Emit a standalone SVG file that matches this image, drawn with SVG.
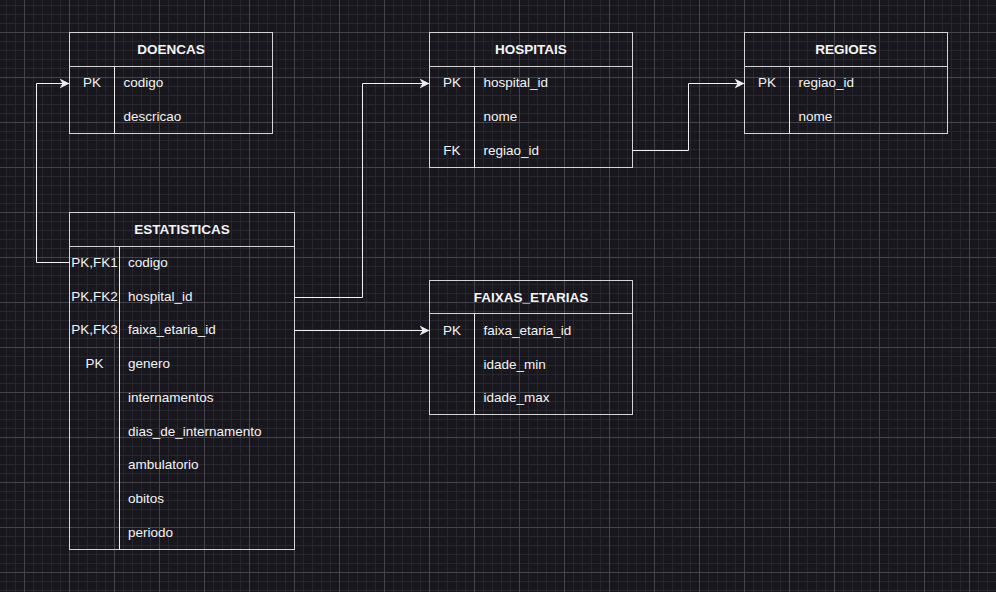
<svg xmlns="http://www.w3.org/2000/svg" width="996" height="592" viewBox="0 0 996 592">
  <defs>
    <!-- background grid: 9px minor cells, 45px major cells -->
    <pattern id="grid" x="24" y="32" width="45" height="45" patternUnits="userSpaceOnUse">
      <rect x="9" y="0" width="1" height="45" fill="#27252d"/>
      <rect x="18" y="0" width="1" height="45" fill="#27252d"/>
      <rect x="27" y="0" width="1" height="45" fill="#27252d"/>
      <rect x="36" y="0" width="1" height="45" fill="#27252d"/>
      <rect x="0" y="9" width="45" height="1" fill="#27252d"/>
      <rect x="0" y="18" width="45" height="1" fill="#27252d"/>
      <rect x="0" y="27" width="45" height="1" fill="#27252d"/>
      <rect x="0" y="36" width="45" height="1" fill="#27252d"/>
      <rect x="0" y="0" width="1" height="45" fill="#45444b"/>
      <rect x="0" y="0" width="45" height="1" fill="#45444b"/>
    </pattern>
    <marker id="arrow" viewBox="0 0 10 10" refX="10" refY="5" markerWidth="10" markerHeight="10" markerUnits="userSpaceOnUse" orient="auto">
      <path d="M0,0 L10,5 L0,10 L3,5 Z" fill="#f0f0f0"/>
    </marker>
  </defs>
  <style>
    .box { fill: none; stroke: #d4d4d4; stroke-width: 1; }
    .div { stroke: #ececec; stroke-width: 1; }
    .title { font-family: "Liberation Sans", Arial, sans-serif; font-size: 13.5px; font-weight: bold; fill: #f4f4f4; text-anchor: middle; }
    .key { font-family: "Liberation Sans", Arial, sans-serif; font-size: 13.5px; fill: #f4f4f4; text-anchor: middle; }
    .field { font-family: "Liberation Sans", Arial, sans-serif; font-size: 13.5px; fill: #f4f4f4; }
    .conn { fill: none; stroke: #f0f0f0; stroke-width: 1; }
  </style>

  <rect width="996" height="592" fill="#18171e"/>
  <rect width="996" height="592" fill="url(#grid)"/>

  <!-- DOENCAS -->
  <g id="doencas">
    <rect class="box" x="69.5" y="32.5" width="203" height="101"/>
    <line class="box" x1="69.5" y1="66.5" x2="272.5" y2="66.5"/>
    <line class="div" x1="114.5" y1="66.5" x2="114.5" y2="133.5"/>
    <text class="title" x="171" y="54">DOENCAS</text>
    <text class="key" x="92" y="87">PK</text>
    <text class="field" x="123.5" y="87">codigo</text>
    <text class="field" x="123.5" y="120.7">descricao</text>
  </g>

  <!-- HOSPITAIS -->
  <g id="hospitais">
    <rect class="box" x="429.5" y="32.5" width="203" height="135"/>
    <line class="box" x1="429.5" y1="66.5" x2="632.5" y2="66.5"/>
    <line class="div" x1="474.5" y1="66.5" x2="474.5" y2="167.5"/>
    <text class="title" x="531" y="54">HOSPITAIS</text>
    <text class="key" x="452" y="87">PK</text>
    <text class="field" x="483.5" y="87">hospital_id</text>
    <text class="field" x="483.5" y="120.7">nome</text>
    <text class="key" x="452" y="154.5">FK</text>
    <text class="field" x="483.5" y="154.5">regiao_id</text>
  </g>

  <!-- REGIOES -->
  <g id="regioes">
    <rect class="box" x="744.5" y="32.5" width="203" height="101"/>
    <line class="box" x1="744.5" y1="66.5" x2="947.5" y2="66.5"/>
    <line class="div" x1="789.5" y1="66.5" x2="789.5" y2="133.5"/>
    <text class="title" x="846" y="54">REGIOES</text>
    <text class="key" x="767" y="87">PK</text>
    <text class="field" x="798.5" y="87">regiao_id</text>
    <text class="field" x="798.5" y="120.7">nome</text>
  </g>

  <!-- ESTATISTICAS -->
  <g id="estatisticas">
    <rect class="box" x="69.5" y="212.5" width="225" height="337"/>
    <line class="box" x1="69.5" y1="246.5" x2="294.5" y2="246.5"/>
    <line class="div" x1="119.5" y1="246.5" x2="119.5" y2="549.5"/>
    <text class="title" x="182" y="234">ESTATISTICAS</text>
    <text class="key" x="94.5" y="266.9">PK,FK1</text>
    <text class="field" x="128" y="266.9">codigo</text>
    <text class="key" x="94.5" y="300.7">PK,FK2</text>
    <text class="field" x="128" y="300.7">hospital_id</text>
    <text class="key" x="94.5" y="334.4">PK,FK3</text>
    <text class="field" x="128" y="334.4">faixa_etaria_id</text>
    <text class="key" x="94.5" y="368.2">PK</text>
    <text class="field" x="128" y="368.2">genero</text>
    <text class="field" x="128" y="401.9">internamentos</text>
    <text class="field" x="128" y="435.7">dias_de_internamento</text>
    <text class="field" x="128" y="469.4">ambulatorio</text>
    <text class="field" x="128" y="503.2">obitos</text>
    <text class="field" x="128" y="536.9">periodo</text>
  </g>

  <!-- FAIXAS_ETARIAS -->
  <g id="faixas_etarias">
    <rect class="box" x="429.5" y="280.5" width="203" height="134"/>
    <line class="box" x1="429.5" y1="313.5" x2="632.5" y2="313.5"/>
    <line class="div" x1="474.5" y1="313.5" x2="474.5" y2="414.5"/>
    <text class="title" x="531" y="301.7">FAIXAS_ETARIAS</text>
    <text class="key" x="452" y="334.9">PK</text>
    <text class="field" x="483.5" y="334.9">faixa_etaria_id</text>
    <text class="field" x="483.5" y="368.7">idade_min</text>
    <text class="field" x="483.5" y="402.4">idade_max</text>
  </g>

  <!-- relationships -->
  <g id="connectors">
    <path class="conn" d="M69.5 262.5 H36.5 V83.5 H69.5" marker-end="url(#arrow)"/>
    <path class="conn" d="M294.5 297.5 H362.5 V83.5 H429.5" marker-end="url(#arrow)"/>
    <path class="conn" d="M294.5 330.5 H429.5" marker-end="url(#arrow)"/>
    <path class="conn" d="M632.5 150.5 H688.5 V83.5 H744.5" marker-end="url(#arrow)"/>
  </g>
</svg>
